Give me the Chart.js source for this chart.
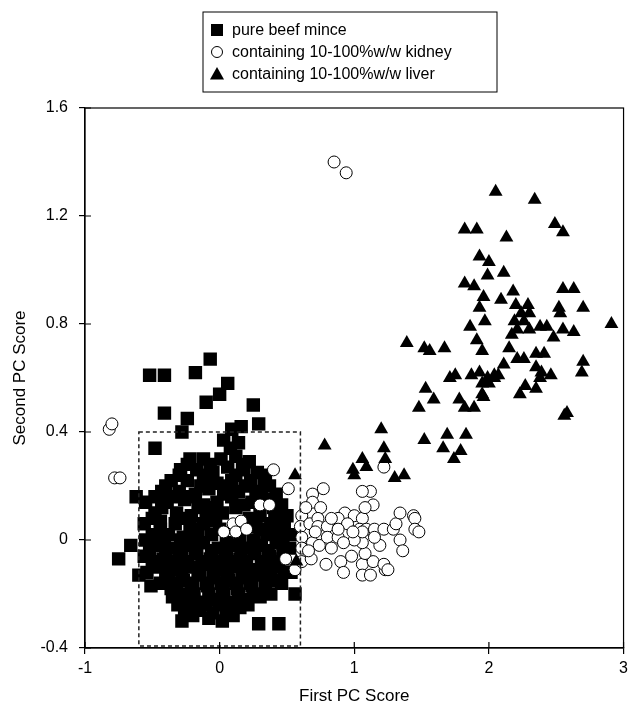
<!DOCTYPE html>
<html>
<head>
<meta charset="utf-8">
<script src="https://cdn.jsdelivr.net/npm/chart.js@4.4.1/dist/chart.umd.min.js"></script>
<style>
  html, body { margin: 0; padding: 0; background: #fff; }
  canvas { display: block; }
</style>
</head>
<body>
<canvas id="chart" width="633" height="711"></canvas>
<script>
// series names, as in the legend
const seriesLabels = ['pure beef mince', 'containing 10-100%w/w kidney', 'containing 10-100%w/w liver'];

const xTickValues = [-1, 0, 1, 2, 3];
const yTickValues = [-0.4, 0, 0.4, 0.8, 1.2, 1.6];

// dashed selection box (PC1, PC2)
const boxX = [-0.6, 0.6];
const boxY = [-0.4, 0.4];

// [first PC score, second PC score]
const beefPoints = [
  [-0.07, 0.67], [-0.52, 0.61], [-0.41, 0.61], [-0.18, 0.62], [0.06, 0.58], [0.00, 0.54],
  [-0.10, 0.51], [0.25, 0.50], [-0.41, 0.47], [-0.24, 0.45], [-0.28, 0.40], [0.09, 0.41],
  [0.16, 0.42], [0.29, 0.43], [-0.48, 0.34], [0.03, 0.37], [0.08, 0.34], [0.14, 0.36],
  [-0.22, 0.30], [-0.12, 0.30], [0.01, 0.30], [0.12, 0.31], [0.22, 0.29],
  [-0.24, 0.28], [-0.07, 0.28], [0.17, 0.28],
  [-0.29, 0.26], [-0.17, 0.26], [-0.05, 0.25], [0.06, 0.27], [0.18, 0.26], [0.28, 0.25],
  [-0.30, 0.24], [-0.08, 0.24], [0.12, 0.24], [0.34, 0.24],
  [-0.36, 0.22], [-0.24, 0.22], [-0.12, 0.23], [-0.02, 0.21], [0.09, 0.22], [0.23, 0.22], [0.33, 0.21],
  [-0.40, 0.20], [-0.14, 0.20], [0.05, 0.20], [0.19, 0.20], [0.37, 0.20],
  [-0.43, 0.18], [-0.30, 0.18], [-0.18, 0.17], [-0.08, 0.19], [0.03, 0.17], [0.14, 0.18], [0.27, 0.18], [0.42, 0.17],
  [-0.48, 0.16], [-0.34, 0.16], [-0.21, 0.16], [0.09, 0.16], [0.31, 0.16],
  [-0.62, 0.16], [-0.55, 0.14], [-0.39, 0.14], [-0.26, 0.15], [-0.12, 0.13], [-0.02, 0.14], [0.18, 0.13], [0.24, 0.14], [0.36, 0.15], [0.46, 0.13],
  [-0.43, 0.12], [-0.16, 0.12], [-0.05, 0.12], [0.12, 0.12], [0.40, 0.12],
  [-0.48, 0.10], [-0.32, 0.10], [-0.21, 0.09], [-0.10, 0.11], [0.02, 0.10], [0.30, 0.09], [0.41, 0.10], [0.50, 0.09],
  [-0.50, 0.08], [-0.27, 0.08], [-0.06, 0.08], [0.22, 0.08], [0.44, 0.08],
  [-0.56, 0.06], [-0.44, 0.07], [-0.33, 0.06], [-0.22, 0.05], [-0.12, 0.06], [-0.03, 0.07], [0.27, 0.05], [0.38, 0.06], [0.48, 0.05],
  [-0.44, 0.04], [-0.21, 0.04], [0.00, 0.04], [0.30, 0.04], [0.41, 0.04],
  [-0.50, 0.02], [-0.38, 0.02], [-0.27, 0.01], [-0.16, 0.03], [-0.06, 0.02], [0.05, -0.01], [0.35, 0.02], [0.45, 0.01], [0.53, 0.02],
  [-0.55, 0.00], [-0.41, 0.00], [-0.29, 0.00], [-0.18, 0.00], [0.15, 0.00], [0.25, 0.00], [0.47, 0.00],
  [-0.66, -0.02], [-0.46, -0.02], [-0.35, -0.03], [-0.23, -0.02], [-0.12, -0.01], [-0.01, -0.03], [0.10, -0.02], [0.20, -0.03], [0.31, -0.02], [0.42, -0.01], [0.52, -0.03],
  [-0.52, -0.04], [-0.40, -0.04], [-0.28, -0.04], [-0.17, -0.04], [-0.06, -0.04], [0.05, -0.04], [0.16, -0.04], [0.26, -0.04], [0.36, -0.04], [0.47, -0.04],
  [-0.75, -0.07], [-0.56, -0.06], [-0.42, -0.07], [-0.30, -0.06], [-0.18, -0.05], [-0.07, -0.07], [0.04, -0.06], [0.15, -0.07], [0.26, -0.05], [0.37, -0.06], [0.47, -0.07],
  [-0.50, -0.08], [-0.36, -0.08], [-0.24, -0.08], [-0.13, -0.08], [-0.02, -0.08], [0.09, -0.08], [0.20, -0.08], [0.31, -0.08], [0.42, -0.08],
  [-0.45, -0.10], [-0.33, -0.11], [-0.22, -0.10], [-0.11, -0.09], [0.00, -0.11], [0.11, -0.10], [0.22, -0.11], [0.33, -0.09], [0.44, -0.10], [0.53, -0.12],
  [-0.54, -0.12], [-0.40, -0.12], [-0.28, -0.12], [-0.16, -0.12], [-0.05, -0.12], [0.06, -0.12], [0.17, -0.12], [0.27, -0.12], [0.38, -0.12], [0.48, -0.12],
  [-0.60, -0.13], [-0.38, -0.14], [-0.27, -0.15], [-0.15, -0.13], [-0.04, -0.14], [0.07, -0.15], [0.18, -0.14], [0.29, -0.13], [0.40, -0.15],
  [-0.44, -0.16], [-0.32, -0.16], [-0.20, -0.16], [-0.10, -0.16], [0.01, -0.16], [0.12, -0.16], [0.23, -0.16], [0.34, -0.16], [0.46, -0.16],
  [-0.51, -0.17], [-0.36, -0.18], [-0.21, -0.18], [-0.09, -0.17], [0.02, -0.19], [0.13, -0.18], [0.24, -0.17], [0.38, -0.20], [0.56, -0.20],
  [-0.29, -0.20], [-0.19, -0.20], [-0.08, -0.20], [0.03, -0.20], [0.14, -0.20], [0.25, -0.20],
  [-0.35, -0.21], [-0.25, -0.22], [-0.14, -0.23], [-0.03, -0.22], [0.08, -0.23], [0.19, -0.22], [0.30, -0.21],
  [-0.31, -0.24], [-0.20, -0.24], [-0.10, -0.24], [0.00, -0.24], [0.10, -0.24], [0.21, -0.24],
  [-0.26, -0.26], [-0.15, -0.26], [-0.05, -0.27], [0.05, -0.26], [0.15, -0.25],
  [-0.20, -0.28], [0.10, -0.28],
  [-0.28, -0.30], [-0.08, -0.29], [0.02, -0.30], [0.29, -0.31], [0.44, -0.31]
];

const kidneyPoints = [
  [-0.82, 0.41], [-0.80, 0.43], [-0.78, 0.23], [-0.74, 0.23], [0.85, 1.40], [0.94, 1.36],
  [0.40, 0.26], [0.51, 0.19], [0.30, 0.13], [0.37, 0.13], [0.10, 0.06], [0.16, 0.07],
  [0.03, 0.03], [0.12, 0.03], [0.20, 0.04], [0.49, -0.07], [0.56, -0.11],
  [0.61, 0.09], [0.60, 0.05], [0.61, 0.01], [0.61, -0.03], [0.61, -0.08],
  [0.69, 0.17], [0.69, 0.14], [0.64, 0.12], [0.75, 0.12], [0.77, 0.19], [0.67, 0.06],
  [0.73, 0.08], [0.73, 0.05], [0.80, 0.05], [0.69, -0.01], [0.74, -0.02], [0.80, 0.01],
  [0.88, 0.01], [0.83, -0.03], [0.68, -0.07], [0.79, -0.09], [0.90, -0.08], [0.92, -0.12],
  [0.98, -0.06], [1.06, -0.09], [1.06, -0.13], [1.12, -0.13], [1.14, -0.08], [1.23, -0.11],
  [1.22, -0.09], [1.08, -0.05], [1.19, -0.02], [1.06, -0.01], [1.00, 0.00], [0.93, 0.10],
  [0.88, 0.08], [1.00, 0.09], [0.95, 0.06], [1.06, 0.08], [1.04, 0.04], [1.09, 0.04],
  [1.14, 0.13], [1.12, 0.18], [1.06, 0.18], [1.22, 0.27], [1.06, 0.03], [1.15, 0.04],
  [1.15, 0.01], [1.22, 0.04], [1.29, 0.04], [1.31, 0.06], [1.34, 0.10], [1.34, 0.00],
  [1.36, -0.04], [1.44, 0.09], [1.45, 0.08], [1.45, 0.04], [1.48, 0.03], [1.25, -0.11],
  [0.92, -0.01], [0.71, 0.03], [0.83, 0.08], [0.88, 0.04], [0.99, 0.03], [0.66, -0.04],
  [1.08, 0.12]
];

const liverPoints = [
  [2.05, 1.29], [2.34, 1.26], [1.82, 1.15], [1.91, 1.15], [2.13, 1.12], [2.49, 1.17], [2.55, 1.14],
  [1.93, 1.05], [2.00, 1.03], [1.99, 0.98], [2.11, 0.99], [1.82, 0.95], [1.89, 0.94],
  [1.96, 0.90], [1.93, 0.86], [2.09, 0.89], [2.18, 0.92], [2.20, 0.87], [2.29, 0.87], [2.30, 0.84],
  [2.55, 0.93], [2.63, 0.93], [2.52, 0.86], [2.53, 0.84], [2.70, 0.86], [2.91, 0.80],
  [1.97, 0.81], [1.86, 0.79], [1.91, 0.74], [1.95, 0.70],
  [2.19, 0.81], [2.21, 0.78], [2.17, 0.76], [2.26, 0.81], [2.30, 0.78], [2.38, 0.79], [2.43, 0.79],
  [2.48, 0.75], [2.55, 0.78], [2.63, 0.77], [2.24, 0.84],
  [1.39, 0.73], [1.52, 0.71], [1.56, 0.70], [1.67, 0.71],
  [2.15, 0.71], [2.21, 0.67], [2.26, 0.67], [2.35, 0.69], [2.41, 0.69],
  [2.70, 0.66], [2.69, 0.62], [2.11, 0.65], [2.07, 0.61], [2.04, 0.60], [1.93, 0.62], [1.99, 0.60],
  [2.35, 0.64], [2.39, 0.62], [2.46, 0.61], [2.38, 0.60], [1.95, 0.58], [2.00, 0.58], [2.35, 0.56],
  [2.27, 0.57], [2.23, 0.54], [1.95, 0.54],
  [1.71, 0.60], [1.75, 0.61], [1.87, 0.61], [2.04, 0.61],
  [1.53, 0.56], [1.59, 0.52], [1.78, 0.52], [1.96, 0.53], [1.48, 0.49], [1.82, 0.49], [1.89, 0.49],
  [1.20, 0.41], [1.52, 0.37], [1.69, 0.39], [1.83, 0.39], [1.66, 0.34], [1.79, 0.33], [1.74, 0.30],
  [0.78, 0.35], [1.22, 0.34], [1.23, 0.30], [1.06, 0.30], [1.09, 0.27], [0.99, 0.26], [1.00, 0.24],
  [1.37, 0.24], [1.30, 0.23], [0.56, 0.24], [0.57, -0.08], [2.56, 0.46], [2.58, 0.47]
];

const toXY = arr => arr.map(p => ({ x: p[0], y: p[1] }));
const FONT = '"Liberation Sans", Arial, Helvetica, sans-serif';

// frame, inner tick marks, dashed box and the boxed legend
const extrasPlugin = {
  id: 'extras',
  afterDatasetsDraw(chart) {
    const { ctx, chartArea: a, scales } = chart;
    ctx.save();
    // dashed box
    const x0 = scales.x.getPixelForValue(boxX[0]);
    const x1 = scales.x.getPixelForValue(boxX[1]);
    const y0 = scales.y.getPixelForValue(boxY[1]);
    const y1 = scales.y.getPixelForValue(boxY[0]);
    ctx.setLineDash([4, 3]);
    ctx.strokeStyle = '#222';
    ctx.lineWidth = 1.5;
    ctx.strokeRect(x0, y0, x1 - x0, y1 - y0 - 2);
    ctx.setLineDash([]);

    // frame
    ctx.strokeStyle = '#000';
    ctx.lineWidth = 1.2;
    ctx.strokeRect(a.left, a.top, a.right - a.left, a.bottom - a.top);

    // tick marks inside the frame
    ctx.beginPath();
    xTickValues.forEach(v => {
      const px = scales.x.getPixelForValue(v);
      ctx.moveTo(px, a.bottom);
      ctx.lineTo(px, a.bottom - 6);
    });
    yTickValues.forEach(v => {
      const py = scales.y.getPixelForValue(v);
      ctx.moveTo(a.left, py);
      ctx.lineTo(a.left + 6, py);
    });
    ctx.stroke();

    // legend
    const lx = 203, ly = 12, lw = 294, lh = 80;
    ctx.lineWidth = 1;
    ctx.strokeRect(lx, ly, lw, lh);
    const rows = [ly + 18, ly + 40, ly + 62];
    const sx = lx + 14;
    ctx.fillStyle = '#000';
    ctx.fillRect(sx - 6, rows[0] - 6, 12, 12);
    ctx.beginPath();
    ctx.arc(sx, rows[1], 5.5, 0, Math.PI * 2);
    ctx.fillStyle = '#fff';
    ctx.fill();
    ctx.stroke();
    ctx.beginPath();
    ctx.moveTo(sx, rows[2] - 7);
    ctx.lineTo(sx + 7, rows[2] + 5.5);
    ctx.lineTo(sx - 7, rows[2] + 5.5);
    ctx.closePath();
    ctx.fillStyle = '#000';
    ctx.fill();
    ctx.font = '16px ' + FONT;
    ctx.textBaseline = 'middle';
    ctx.textAlign = 'left';
    seriesLabels.forEach((t, i) => ctx.fillText(t, sx + 15, rows[i] + 1));
    ctx.restore();
  }
};

const ctx = document.getElementById('chart').getContext('2d');

new Chart(ctx, {
  type: 'scatter',
  data: {
    datasets: [
      {
        label: seriesLabels[2],
        data: toXY(liverPoints),
        pointStyle: 'triangle',
        pointRadius: 8,
        backgroundColor: '#000',
        borderWidth: 0,
        order: 0
      },
      {
        label: seriesLabels[1],
        data: toXY(kidneyPoints),
        pointStyle: 'circle',
        pointRadius: 6,
        backgroundColor: '#fff',
        borderColor: '#000',
        borderWidth: 1,
        order: 1
      },
      {
        label: seriesLabels[0],
        data: toXY(beefPoints),
        pointStyle: 'rect',
        pointRadius: 9.5,
        backgroundColor: '#000',
        borderWidth: 0,
        order: 2
      }
    ]
  },
  options: {
    responsive: false,
    animation: false,
    layout: { autoPadding: false, padding: { top: 108, right: 6, left: 0, bottom: 0 } },
    plugins: {
      legend: { display: false },
      tooltip: { enabled: false }
    },
    scales: {
      x: {
        type: 'linear',
        min: -1,
        max: 3,
        afterBuildTicks: s => { s.ticks = xTickValues.map(v => ({ value: v })); },
        afterFit: s => { s.height = 63; },
        ticks: {
          color: '#000',
          font: { family: FONT, size: 16 },
          padding: 5,
          callback: v => String(v)
        },
        grid: { drawOnChartArea: false, tickLength: 6, color: '#000', lineWidth: 1.2 },
        border: { color: '#000', width: 1.2 },
        title: {
          display: true,
          text: 'First PC Score',
          color: '#000',
          font: { family: FONT, size: 17 },
          padding: { top: 2, bottom: 4 }
        }
      },
      y: {
        type: 'linear',
        min: -0.4,
        max: 1.6,
        afterBuildTicks: s => { s.ticks = yTickValues.map(v => ({ value: v })); },
        afterFit: s => { s.width = 85; },
        ticks: {
          color: '#000',
          font: { family: FONT, size: 16 },
          padding: 11,
          callback: v => String(Math.round(v * 10) / 10)
        },
        grid: { drawOnChartArea: false, tickLength: 6, color: '#000', lineWidth: 1.2 },
        border: { color: '#000', width: 1.2 },
        title: {
          display: true,
          text: 'Second PC Score',
          color: '#000',
          font: { family: FONT, size: 17 },
          padding: { top: 10, bottom: 0 }
        }
      }
    }
  },
  plugins: [extrasPlugin]
});
</script>
</body>
</html>
